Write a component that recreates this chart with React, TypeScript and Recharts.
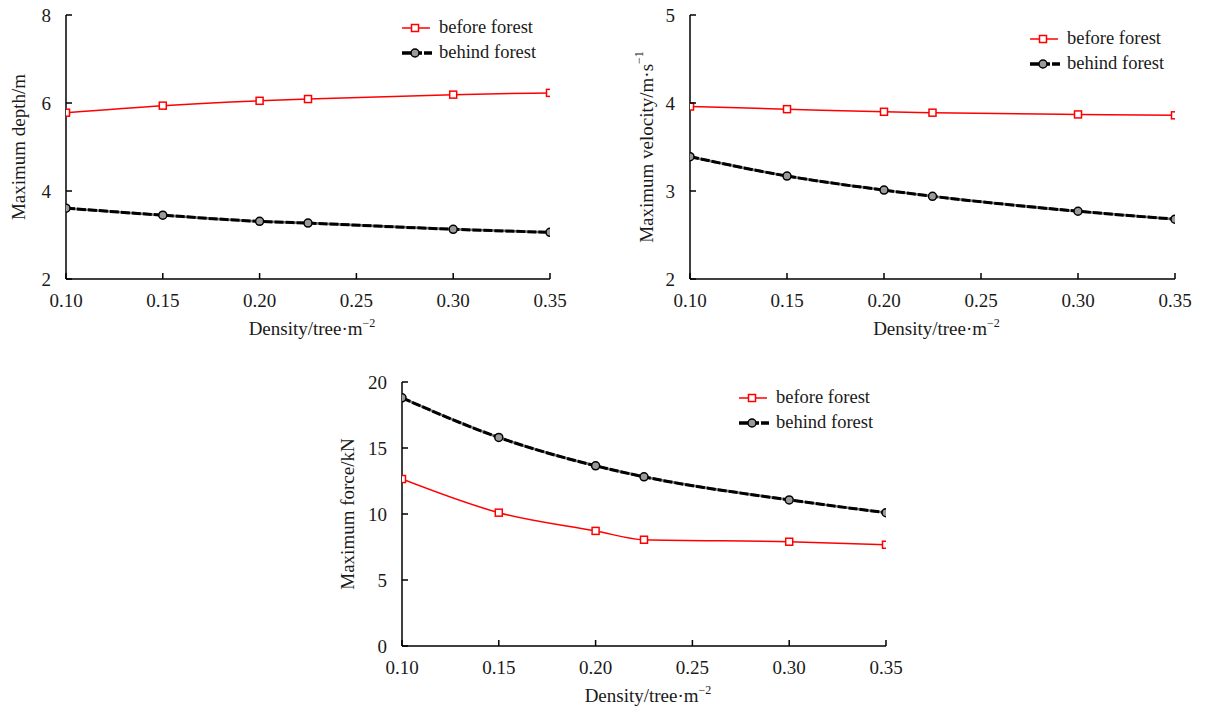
import { LineChart, Line, XAxis, YAxis, Label } from "recharts";

const FONT = '"Times New Roman", "Liberation Serif", serif';
const INK = "#1a1a1a";

// density of trees (x values, shared by all three panels)
const density = [0.1, 0.15, 0.2, 0.225, 0.3, 0.35];
const xTicks = [0.1, 0.15, 0.2, 0.25, 0.3, 0.35];

// panel (a) max depth
const depthBefore = [5.78, 5.94, 6.05, 6.09, 6.19, 6.23];
const depthBehind = [3.61, 3.45, 3.31, 3.27, 3.13, 3.06];
const depthTicks = [2, 4, 6, 8];

// panel (b) max velocity
const velBefore = [3.96, 3.93, 3.9, 3.89, 3.87, 3.86];
const velBehind = [3.39, 3.17, 3.01, 2.94, 2.77, 2.68];
const velTicks = [2, 3, 4, 5];

// panel (c) max force
const forceBefore = [12.65, 10.1, 8.72, 8.05, 7.9, 7.67];
const forceBehind = [18.8, 15.8, 13.65, 12.82, 11.07, 10.1];
const forceTicks = [0, 5, 10, 15, 20];

const NAMES = { before: "before forest", behind: "behind forest" };

const toRows = (before: number[], behind: number[]) =>
  density.map((d, i) => ({ d, before: before[i], behind: behind[i] }));

const XTick = (props: any) => {
  const { x, y, payload } = props;
  return (
    <g>
      <line x1={x} y1={y} x2={x} y2={y - 6} stroke="#000" strokeWidth={1.5} />
      <text x={x} y={y + 28} textAnchor="middle" fontSize={19} fill={INK} fontFamily={FONT}>
        {Number(payload.value).toFixed(2)}
      </text>
    </g>
  );
};

const YTick = (props: any) => {
  const { x, y, payload } = props;
  return (
    <g>
      <line x1={x} y1={y} x2={x + 6} y2={y} stroke="#000" strokeWidth={1.5} />
      <text x={x - 15} y={y + 6.5} textAnchor="end" fontSize={19} fill={INK} fontFamily={FONT}>
        {payload.value}
      </text>
    </g>
  );
};

const SquareDot = (p: any) => (
  <rect key={`sq-${p.index}`} x={p.cx - 3.5} y={p.cy - 3.5} width={7} height={7}
    fill="#fff" stroke="#ff0000" strokeWidth={1.5} />
);

const CircleDot = (p: any) => (
  <circle key={`ci-${p.index}`} cx={p.cx} cy={p.cy} r={4}
    fill="#9a9a9a" stroke="#000" strokeWidth={1.5} />
);

function LegendBox({ left, top }: { left: number; top: number }) {
  return (
    <div style={{ position: "absolute", left, top, fontFamily: FONT, fontSize: 18.5, color: INK, lineHeight: "25px" }}>
      <div style={{ display: "flex", alignItems: "center", height: 25 }}>
        <svg width={30} height={14} style={{ marginRight: 7 }}>
          <line x1={0} y1={7} x2={28} y2={7} stroke="#ff0000" strokeWidth={1.5} />
          <rect x={9.5} y={3.5} width={7} height={7} fill="#fff" stroke="#ff0000" strokeWidth={1.5} />
        </svg>
        <span>{NAMES.before}</span>
      </div>
      <div style={{ display: "flex", alignItems: "center", height: 25 }}>
        <svg width={30} height={14} style={{ marginRight: 7 }}>
          <line x1={0} y1={7} x2={30} y2={7} stroke="#000" strokeWidth={3.5} strokeDasharray="9 2" />
          <circle cx={13} cy={7} r={4} fill="#9a9a9a" stroke="#000" strokeWidth={1.5} />
        </svg>
        <span>{NAMES.behind}</span>
      </div>
    </div>
  );
}

const xTitle = (dx: number, dy: number) => (props: any) => {
  const vb = props.viewBox;
  return (
    <text x={vb.x + vb.width / 2 + dx} y={vb.y + dy} textAnchor="middle" fontSize={19} fill={INK} fontFamily={FONT}>
      Density/tree·m
      <tspan fontSize={12} dy={-8}>−2</tspan>
    </text>
  );
};

const yTitle = (text: string, sup: string, dist: number) => (props: any) => {
  const vb = props.viewBox;
  const cx = vb.x + vb.width - dist;
  const cy = vb.y + vb.height / 2;
  return (
    <text x={cx} y={cy} transform={`rotate(-90 ${cx} ${cy})`} textAnchor="middle"
      dominantBaseline="central" fontSize={19} fill={INK} fontFamily={FONT}>
      {text}
      {sup ? <tspan fontSize={12} dy={-7}>{sup}</tspan> : null}
    </text>
  );
};

type PanelProps = {
  left: number; top: number; width: number; height: number;
  margin: { top: number; right: number; bottom: number; left: number };
  rows: any[]; yDomain: [number, number]; yTicks: number[];
  yText: string; ySup: string; yDist: number;
  legendPos: { left: number; top: number };
};

function Panel(p: PanelProps) {
  return (
    <div style={{ position: "absolute", left: p.left, top: p.top, width: p.width, height: p.height }}>
      <LineChart width={p.width} height={p.height} data={p.rows} margin={p.margin}>
        <XAxis dataKey="d" type="number" domain={[0.1, 0.35]} ticks={xTicks} interval={0}
          allowDataOverflow height={30} tickSize={0} tickMargin={0} tick={<XTick />}
          tickLine={false} axisLine={{ stroke: "#000", strokeWidth: 1.5 }}>
          <Label content={xTitle(4, 56)} />
        </XAxis>
        <YAxis type="number" domain={p.yDomain} ticks={p.yTicks} interval={0} width={40}
          tickSize={0} tickMargin={0} tick={<YTick />} tickLine={false}
          axisLine={{ stroke: "#000", strokeWidth: 1.5 }}>
          <Label content={yTitle(p.yText, p.ySup, p.yDist)} />
        </YAxis>
        <Line dataKey="before" name={NAMES.before} type="monotone" stroke="#ff0000" strokeWidth={1.5}
          dot={SquareDot} isAnimationActive={false} />
        <Line dataKey="behind" legendType="none" type="monotone" stroke="#777" strokeWidth={2.5}
          dot={false} activeDot={false} isAnimationActive={false} />
        <Line dataKey="behind" name={NAMES.behind} type="monotone" stroke="#000" strokeWidth={3}
          strokeDasharray="9 2" dot={CircleDot} isAnimationActive={false} />
      </LineChart>
      <LegendBox left={p.legendPos.left} top={p.legendPos.top} />
    </div>
  );
}

export default function App() {
  return (
    <div style={{ position: "absolute", left: 0, top: 0, width: 1205, height: 713, background: "#fff" }}>
      <Panel left={0} top={0} width={600} height={345}
        margin={{ top: 15, right: 50, bottom: 36, left: 26 }}
        rows={toRows(depthBefore, depthBehind)} yDomain={[2, 8]} yTicks={depthTicks}
        yText="Maximum depth/m" ySup="" yDist={48}
        legendPos={{ left: 402, top: 15 }} />
      <Panel left={620} top={0} width={585} height={345}
        margin={{ top: 15, right: 30, bottom: 36, left: 30 }}
        rows={toRows(velBefore, velBehind)} yDomain={[2, 5]} yTicks={velTicks}
        yText="Maximum velocity/m·s" ySup="−1" yDist={44}
        legendPos={{ left: 410, top: 26 }} />
      <Panel left={320} top={360} width={600} height={353}
        margin={{ top: 22, right: 34, bottom: 37, left: 42 }}
        rows={toRows(forceBefore, forceBehind)} yDomain={[0, 20]} yTicks={forceTicks}
        yText="Maximum force/kN" ySup="" yDist={55}
        legendPos={{ left: 419, top: 25 }} />
    </div>
  );
}
